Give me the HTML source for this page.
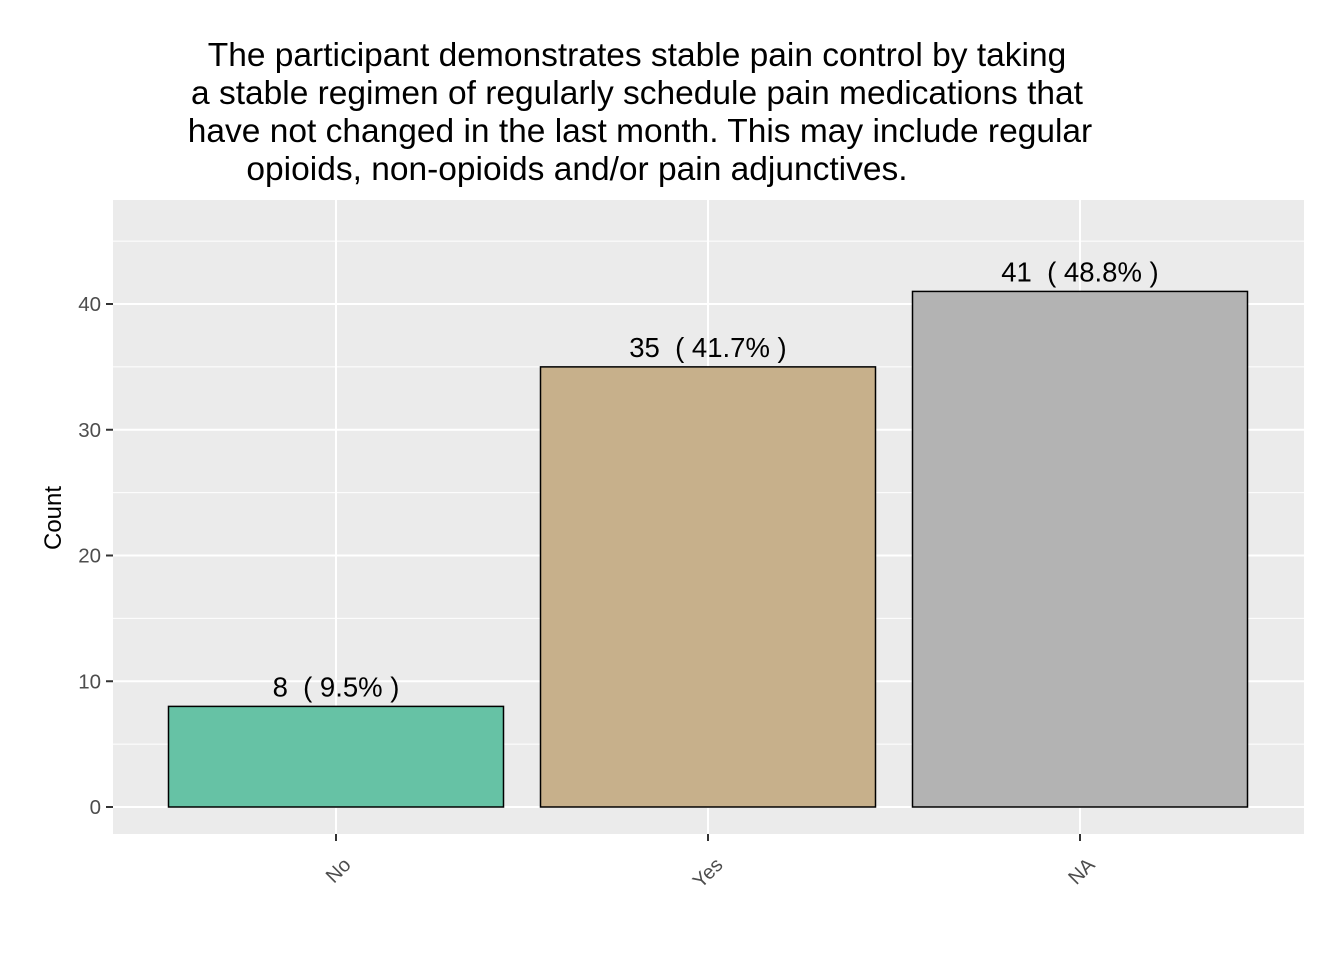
<!DOCTYPE html>
<html><head><meta charset="utf-8"><style>
body{margin:0;background:#fff;}
svg text{font-family:"Liberation Sans",Arial,sans-serif;}
</style></head><body>
<svg id="chart" width="1344" height="960">
<g font-size="33.5" fill="#000" text-anchor="middle">
<text x="637" y="66">The participant demonstrates stable pain control by taking</text>
<text x="637" y="104">a stable regimen of regularly schedule pain medications that</text>
<text x="640" y="142">have not changed in the last month. This may include regular</text>
<text x="577" y="180">opioids, non-opioids and/or pain adjunctives.</text>
</g>
<rect x="113" y="200" width="1191" height="634" fill="#ebebeb"/>
<g id="grid"></g>
<g id="bars"></g>
<g id="axes"></g>
<text transform="translate(61,518) rotate(-90)" text-anchor="middle" font-size="24" fill="#000">Count</text>
</svg>
<script>
const categories=["No","Yes","NA"];
const counts=[8,35,41];
const labels=["8\u00a0\u00a0( 9.5% )","35\u00a0\u00a0( 41.7% )","41\u00a0\u00a0( 48.8% )"];
const colors=["#66c2a5","#c7b08b","#b3b3b3"];
const yTicks=[0,10,20,30,40];
const ns="http://www.w3.org/2000/svg";
const y0=807,pxPerUnit=12.575;
const yScale=v=>y0-v*pxPerUnit;
const xCenter=i=>336+i*372, bw=335;
function mk(tag,attrs,parent){const e=document.createElementNS(ns,tag);for(const k in attrs)e.setAttribute(k,attrs[k]);parent.appendChild(e);return e;}
const grid=document.getElementById('grid'),bars=document.getElementById('bars'),axes=document.getElementById('axes');
for(let v=5;v<=45;v+=10){const l=mk('line',{x1:113,x2:1304,y1:yScale(v),y2:yScale(v),stroke:'#fff','stroke-width':1},grid);

}
yTicks.forEach(v=>{const y=yScale(v);
const l=mk('line',{x1:113,x2:1304,y1:y,y2:y,stroke:'#fff','stroke-width':2},grid);


const t=mk('line',{x1:106,x2:113,y1:y,y2:y,stroke:'#333','stroke-width':2},axes);


const tx=mk('text',{x:101,y:y+7,'text-anchor':'end','font-size':20.5,fill:'#4d4d4d'},axes);tx.textContent=v;

});
categories.forEach((c,i)=>{const x=xCenter(i);
const l=mk('line',{x1:x,x2:x,y1:200,y2:834,stroke:'#fff','stroke-width':2},grid);


const r=mk('rect',{x:x-bw/2,y:yScale(counts[i]),width:bw,height:y0-yScale(counts[i]),fill:colors[i],stroke:'#000','stroke-width':1.5},bars);


const lb=mk('text',{x:x,y:yScale(counts[i])-10,'text-anchor':'middle','font-size':27.5,fill:'#000'},bars);lb.textContent=labels[i];


const t=mk('line',{x1:x,x2:x,y1:834,y2:841,stroke:'#333','stroke-width':2},axes);


const tx=mk('text',{transform:`translate(${x+16},${866}) rotate(-45)`,'text-anchor':'end','font-size':20,fill:'#4d4d4d'},axes);tx.textContent=c;

});
</script>
</body></html>
